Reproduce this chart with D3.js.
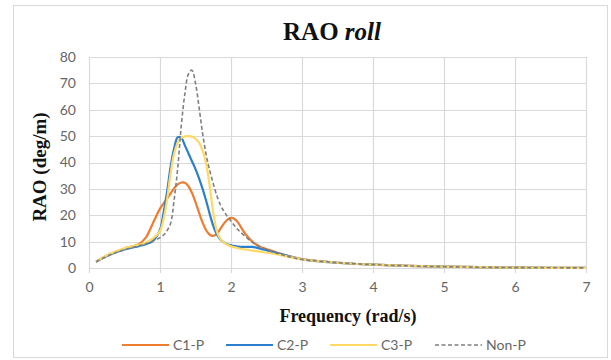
<!DOCTYPE html>
<html><head><meta charset="utf-8">
<script src="https://cdn.jsdelivr.net/npm/d3@7"></script>
<style>body{margin:0;background:#fff;}svg{display:block;}</style>
</head><body>
<svg id="chart" width="611" height="360"></svg>
<script>
const freq = [0.1,0.3,0.5,0.7,0.8,0.9,1.0,1.05,1.1,1.15,1.2,1.25,1.3,1.35,1.4,1.45,1.5,1.55,1.6,1.65,1.7,1.75,1.8,1.85,1.9,1.95,2.0,2.05,2.1,2.2,2.3,2.4,2.6,2.8,3.0,3.5,4,4.5,5,5.5,6,6.5,7];
const c1p = [2.4,5.3,7.4,9.0,11.5,17,22.5,24.5,26.3,28.3,30.3,31.7,32.4,32.3,31,28.5,25,21,17.2,14.3,12.6,12.2,13,14.8,16.8,18.3,19,18.6,17.2,13,10,8.2,6.3,4.6,3.4,2.0,1.3,0.8,0.5,0.3,0.15,0.08,0.05];
const c2p = [2.4,5.1,7.0,8.3,9.0,10.3,14.5,21,29,38.5,45.5,49.6,49.3,46.5,43.5,40.5,37.5,34,30,25.5,20.5,16,12.8,10.8,9.7,9.0,8.6,8.3,8.1,8.0,8.0,7.4,6.0,4.6,3.3,2.0,1.3,0.8,0.5,0.3,0.15,0.08,0.05];
const c3p = [2.4,5.4,7.5,8.8,9.6,11.2,14,18.5,26,36,43.5,47.5,49.3,49.9,50,49.8,49,47.5,44.5,39.5,31,21,14,11,9.6,8.8,8.2,7.8,7.5,7.0,6.6,6.2,5.4,4.3,3.3,2.0,1.3,0.8,0.5,0.3,0.15,0.08,0.05];
const nonp = [2.4,5.0,6.9,8.4,9.2,10.2,11.5,12.5,14.2,17,26,38,54,66,73.5,75,70,61,51,43,37,32,27.5,24,21.5,19.5,17.8,16,14.5,12,9.8,8.2,6.0,4.4,3.3,2.0,1.3,0.8,0.5,0.3,0.15,0.08,0.05];
const seriesNames = ["C1-P","C2-P","C3-P","Non-P"];
const xTicks = [0,1,2,3,4,5,6,7];
const yTicks = [0,10,20,30,40,50,60,70,80];

const colors = ["#ED7D31","#2E7FCB","#FFD966","#7F7F7F"];
const dashes = [null,null,null,"4,2.5"];
const allSeries = [c1p,c2p,c3p,nonp];

const svg = d3.select("#chart");
const m = {l:89, r:586, t:57, b:268};
const x = d3.scaleLinear().domain([0,7]).range([m.l,m.r]);
const y = d3.scaleLinear().domain([0,80]).range([m.b,m.t]);

// chart border
svg.append("rect").attr("x",13.5).attr("y",5.5).attr("width",594).attr("height",352)
  .attr("fill","#fff").attr("stroke","#d9d9d9").attr("stroke-width",1);

// gridlines
svg.append("g").selectAll("line").data(yTicks).join("line")
  .attr("x1",m.l).attr("x2",m.r).attr("y1",d=>Math.round(y(d))+0.5).attr("y2",d=>Math.round(y(d))+0.5)
  .attr("stroke","#d9d9d9").attr("stroke-width",1.2);
svg.append("g").selectAll("line").data(xTicks).join("line")
  .attr("y1",m.t).attr("y2",m.b+5).attr("x1",d=>Math.round(x(d))+0.5).attr("x2",d=>Math.round(x(d))+0.5)
  .attr("stroke","#d9d9d9").attr("stroke-width",1.2);

// axes labels
const tickFont = "Lato, 'Open Sans', sans-serif";
const xAxis = d3.axisBottom(x).tickValues(xTicks).tickFormat(d3.format("d")).tickSize(0).tickPadding(14);
const gx = svg.append("g").attr("transform",`translate(0,${m.b})`).call(xAxis);
gx.select(".domain").remove();
gx.selectAll("text").attr("font-family",tickFont).attr("font-size",14).attr("fill","#666");
const yAxis = d3.axisLeft(y).tickValues(yTicks).tickFormat(d3.format("d")).tickSize(0).tickPadding(13);
const gy = svg.append("g").attr("transform",`translate(${m.l},0)`).call(yAxis);
gy.select(".domain").remove();
gy.selectAll("text").attr("font-family",tickFont).attr("font-size",14).attr("fill","#666");

// lines
const line = d3.line().x((d,i)=>x(freq[i])).y(d=>y(d)).curve(d3.curveCatmullRom.alpha(0.5));
allSeries.forEach((s,k)=>{
  const p = svg.append("path").datum(s).attr("d",line).attr("fill","none")
    .attr("stroke",colors[k]).attr("stroke-width",k===3?1.6:2.2).attr("stroke-linejoin","round");
  if(dashes[k]) p.attr("stroke-dasharray",dashes[k]);
});

// title
const title = svg.append("text").attr("x",332).attr("y",40).attr("text-anchor","middle")
  .attr("font-family","'Liberation Serif','Times New Roman',serif").attr("font-size",25).attr("font-weight","bold").attr("fill","#111");
title.append("tspan").text("RAO ");
title.append("tspan").attr("font-style","italic").text("roll");

// axis titles
svg.append("text").attr("x",348).attr("y",322).attr("text-anchor","middle")
  .attr("font-family","'Liberation Serif','Times New Roman',serif").attr("font-size",18).attr("font-weight","bold").attr("fill","#111")
  .text("Frequency (rad/s)");
svg.append("text").attr("transform","translate(46,167) rotate(-90)").attr("text-anchor","middle")
  .attr("font-family","'Liberation Serif','Times New Roman',serif").attr("font-size",19).attr("font-weight","bold").attr("fill","#111")
  .text("RAO (deg/m)");

// legend
const legX = [122,226,330,435];
const lg = svg.append("g").selectAll("g").data(seriesNames).join("g")
  .attr("transform",(d,i)=>`translate(${legX[i]},345)`);
lg.append("line").attr("x1",0).attr("x2",47).attr("y1",0).attr("y2",0)
  .attr("stroke",(d,i)=>colors[i]).attr("stroke-width",(d,i)=>i===3?1.6:2.2)
  .attr("stroke-dasharray",(d,i)=>dashes[i]);
lg.append("text").attr("x",51).attr("y",5).attr("font-family",tickFont).attr("font-size",14).attr("fill","#666").text(d=>d);
</script>
</body></html>
